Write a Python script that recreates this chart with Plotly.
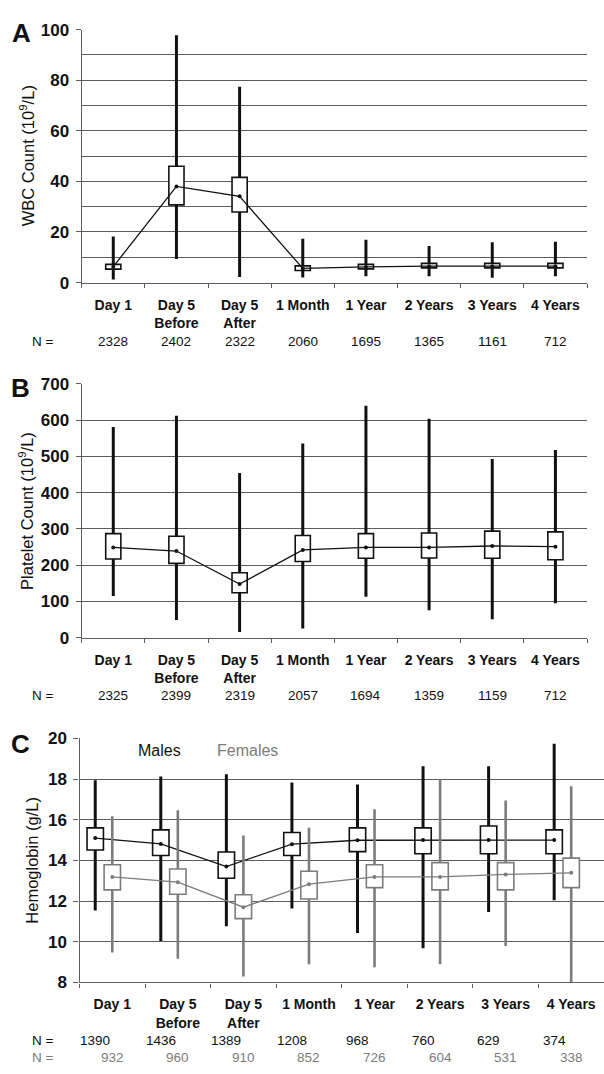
import plotly.graph_objects as go

categories = ["Day 1", "Day 5<br>Before", "Day 5<br>After", "1 Month", "1 Year", "2 Years", "3 Years", "4 Years"]

# Panel A: WBC count
wbc_low = [1.2, 9.3, 2.2, 2.0, 2.5, 2.5, 1.9, 2.5]
wbc_q1 = [5.3, 30.7, 27.9, 4.8, 5.4, 5.8, 5.8, 5.8]
wbc_mean = [6.3, 38.0, 34.1, 5.6, 6.2, 6.5, 6.5, 6.5]
wbc_q3 = [7.2, 46.0, 41.6, 6.6, 7.2, 7.6, 7.6, 7.6]
wbc_high = [18.2, 97.8, 77.4, 17.3, 16.9, 14.5, 15.9, 16.1]
wbc_n = [2328, 2402, 2322, 2060, 1695, 1365, 1161, 712]

# Panel B: platelet count
plt_low = [115, 49, 16, 25, 113, 76, 51, 95]
plt_q1 = [217, 205, 124, 210, 219, 220, 219, 215]
plt_mean = [249, 239, 148, 242, 249, 249, 253, 251]
plt_q3 = [287, 280, 179, 282, 287, 289, 294, 292]
plt_high = [581, 612, 454, 536, 640, 604, 493, 518]
plt_n = [2325, 2399, 2319, 2057, 1694, 1359, 1159, 712]

# Panel C: hemoglobin, males
m_low = [11.54, 10.04, 10.76, 11.64, 10.43, 9.68, 11.46, 12.04]
m_q1 = [14.51, 14.24, 13.12, 14.24, 14.43, 14.33, 14.33, 14.33]
m_mean = [15.1, 14.81, 13.70, 14.8, 14.99, 15.0, 15.0, 15.0]
m_q3 = [15.6, 15.5, 14.41, 15.37, 15.6, 15.6, 15.69, 15.5]
m_high = [17.94, 18.13, 18.24, 17.83, 17.73, 18.63, 18.63, 19.74]
m_n = [1390, 1436, 1389, 1208, 968, 760, 629, 374]

# Panel C: hemoglobin, females
f_low = [9.47, 9.16, 8.29, 8.89, 8.75, 8.89, 9.79, 8.0]
f_q1 = [12.55, 12.34, 11.14, 12.1, 12.66, 12.55, 12.55, 12.66]
f_mean = [13.19, 12.93, 11.70, 12.83, 13.19, 13.19, 13.31, 13.39]
f_q3 = [13.79, 13.58, 12.31, 13.47, 13.79, 13.89, 13.89, 14.11]
f_high = [16.17, 16.46, 15.23, 15.61, 16.52, 18.0, 16.94, 17.64]
f_n = [932, 960, 910, 852, 726, 604, 531, 338]

W, H = 604, 1074
FONT = "Liberation Sans, Arial, sans-serif"
GRID = "#5c5c5c"
BLACK = "#111111"
GRAY = "#7c7c7c"

fig = go.Figure()


def add_group(xs, low, q1, mean, q3, high, color, xa, ya, box_w, whisk_w, name):
    # boxes
    fig.add_trace(go.Bar(
        x=xs, y=[b - a for a, b in zip(q1, q3)], base=q1, width=box_w,
        marker=dict(color="white", line=dict(color=color, width=1.6)),
        xaxis=xa, yaxis=ya, showlegend=False, hoverinfo="skip", name=name))
    # whiskers (outside the boxes)
    wx, wy = [], []
    for x, lo, a, b, hi in zip(xs, low, q1, q3, high):
        wx += [x, x, None, x, x, None]
        wy += [lo, a, None, b, hi, None]
    fig.add_trace(go.Scatter(
        x=wx, y=wy, mode="lines", line=dict(color=color, width=whisk_w),
        xaxis=xa, yaxis=ya, showlegend=False, hoverinfo="skip", connectgaps=False))
    # mean line
    fig.add_trace(go.Scatter(
        x=xs, y=mean, mode="lines+markers", line=dict(color=color, width=1.3),
        marker=dict(color=color, size=4),
        xaxis=xa, yaxis=ya, showlegend=False, name=name))


idx = list(range(len(categories)))
add_group(idx, wbc_low, wbc_q1, wbc_mean, wbc_q3, wbc_high, BLACK, "x", "y", 0.24, 3, "WBC")
add_group(idx, plt_low, plt_q1, plt_mean, plt_q3, plt_high, BLACK, "x2", "y2", 0.24, 3, "Platelets")
male_x = [i - 0.26 for i in idx]
add_group(male_x, m_low, m_q1, m_mean, m_q3, m_high, BLACK, "x3", "y3", 0.25, 3, "Males")
add_group(idx, f_low, f_q1, f_mean, f_q3, f_high, GRAY, "x3", "y3", 0.25, 2.6, "Females")


def px_x(v):
    return v / W


def px_y(v):
    return 1 - v / H


bounds = [i - 0.5 for i in range(len(categories) + 1)]


def xaxis_cfg(x0, x1, anchor):
    return dict(
        domain=[px_x(x0), px_x(x1)], anchor=anchor, range=[-0.5, 7.5],
        tickmode="array", tickvals=idx, ticktext=categories, ticks="",
        ticklabelstandoff=9, ticklabeloverflow="allow",
        tickfont=dict(family=FONT, size=14, color=BLACK, weight="bold"),
        showline=True, linecolor=GRID, linewidth=1.3, showgrid=False, zeroline=False,
        minor=dict(tickmode="array", tickvals=bounds, ticks="outside", ticklen=4,
                   tickcolor=GRID, tickwidth=1.3, showgrid=False),
        fixedrange=True)


def yaxis_cfg(y_top, y_bot, anchor, rng, dtick, minor_dtick=None):
    cfg = dict(
        domain=[px_y(y_bot), px_y(y_top)], anchor=anchor, range=rng,
        tickmode="linear", tick0=rng[0], dtick=dtick, ticks="outside", ticklen=5,
        tickcolor=GRID, tickwidth=1.3,
        tickfont=dict(family=FONT, size=17, color=BLACK, weight="bold"),
        showline=True, linecolor=GRID, linewidth=1.3,
        showgrid=True, gridcolor=GRID, gridwidth=1.2, zeroline=False,
        ticklabelstandoff=3, fixedrange=True)
    if minor_dtick:
        cfg["minor"] = dict(tick0=rng[0], dtick=minor_dtick, showgrid=True,
                            gridcolor=GRID, gridwidth=1.2, ticks="")
    return cfg


fig.update_layout(
    width=W, height=H, margin=dict(l=0, r=0, t=0, b=0),
    paper_bgcolor="white", plot_bgcolor="white", barmode="overlay",
    showlegend=False, font=dict(family=FONT, color=BLACK),
    xaxis=xaxis_cfg(81.7, 587, "y"),
    yaxis=yaxis_cfg(21, 278.5, "x", [0, 100], 20, 10),
    xaxis2=xaxis_cfg(81.7, 587, "y2"),
    yaxis2=yaxis_cfg(381.7, 640, "x2", [0, 700], 100),
    xaxis3=xaxis_cfg(79.5, 604, "y3"),
    yaxis3=yaxis_cfg(742.5, 991, "x3", [8, 20], 2),
)

ann = []


def text(x, y, s, size=13.5, color=BLACK, bold=False, xref="paper", angle=0):
    ann.append(dict(
        x=x, y=px_y(y), xref=xref, yref="paper", text=s, showarrow=False,
        textangle=angle, xanchor="center", yanchor="middle",
        font=dict(family=FONT, size=size, color=color, weight="bold" if bold else "normal")))


# panel letters
text(px_x(21.5), 24, "A", size=26, bold=True)
text(px_x(20.5), 386, "B", size=26, bold=True)
text(px_x(20.5), 748, "C", size=26, bold=True)

# y titles
text(px_x(27), 150, "WBC Count (10<sup>9</sup>/L)", size=16.5, angle=-90)
text(px_x(26), 511, "Platelet Count (10<sup>9</sup>/L)", size=16.5, angle=-90)
text(px_x(32), 867, "Hemoglobin (g/L)", size=16.5, angle=-90)

# legend text for C
text(px_x(159), 755, "Males", size=16, color=BLACK)
text(px_x(247), 755, "Females", size=16, color=GRAY)

# N rows
text(px_x(43), 338, "N =", size=13.5)
for i, n in zip(idx, wbc_n):
    text(i, 338, str(n), size=13.5, xref="x")
text(px_x(43), 699, "N =", size=13.5)
for i, n in zip(idx, plt_n):
    text(i, 699, str(n), size=13.5, xref="x2")
text(px_x(43), 1050, "N =", size=13.5)
for x, n in zip(male_x, m_n):
    text(x, 1050, str(n), size=13.5, xref="x3")
text(px_x(43), 1067, "N =", size=13.5, color=GRAY)
for i, n in zip(idx, f_n):
    text(i, 1067, str(n), size=13.5, xref="x3", color=GRAY)

fig.update_layout(annotations=ann)
fig.write_html(
    "out.html",
    config={"displayModeBar": False},
    post_script="document.body.style.margin='0';document.body.style.padding='0';"
                "document.body.style.overflow='hidden';"
                "document.documentElement.style.overflow='hidden';",
)
